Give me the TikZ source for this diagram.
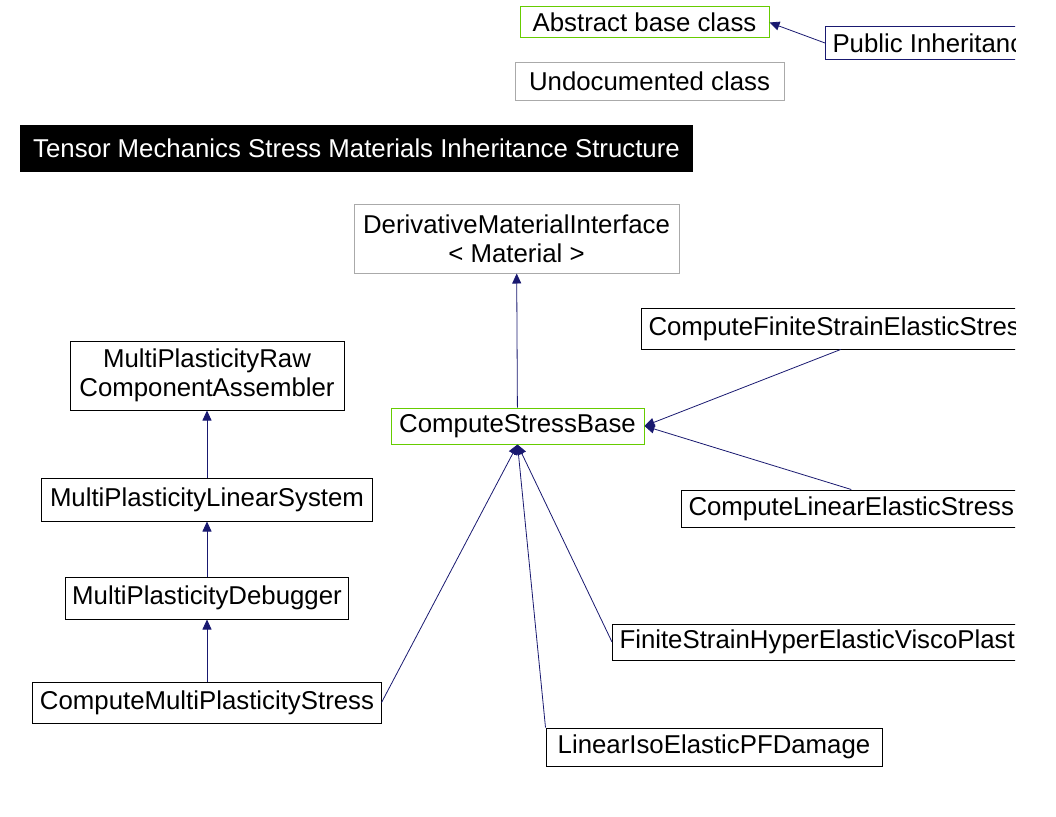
\documentclass[tikz,border=0pt]{standalone}
\usepackage{fontspec}
\setmainfont{Liberation Sans}
\usetikzlibrary{arrows.meta,positioning}

\definecolor{edgeblue}{RGB}{25,25,112}
\definecolor{docgreen}{RGB}{102,204,0}
\definecolor{undocgray}{RGB}{170,170,170}

\begin{document}
\begin{tikzpicture}[x=1pt,y=-1pt,node distance=60pt,
  cls/.style={draw=black,line width=1pt,inner xsep=7pt,inner ysep=2pt,
    minimum height=38pt,font=\fontsize{25.8}{29}\selectfont,align=center},
  base/.style={cls,draw=docgreen},
  undoc/.style={cls,draw=undocgray},
  title/.style={fill=black,text=white,minimum width=673pt,minimum height=47pt,
    font=\fontsize{25.8}{29}\selectfont},
  inherit/.style={color=edgeblue,line width=0.8pt,
    -{Triangle[length=10pt,width=9pt]}}]
\useasboundingbox (0,0) rectangle (1056,816);
\begin{scope}
\clip (0,0) rectangle (1015,816);
% legend
\node[base,minimum height=31pt,minimum width=249pt] (abc) at (644.5,22.5) {Abstract base class};
\node[cls,draw=edgeblue,minimum height=32pt,anchor=west] (pub) at (825,43) {Public Inheritance};
\node[undoc,minimum width=269pt] (undoc) at (649.5,81.5) {Undocumented class};
\node[title] (head) at (356.5,148.5) {Tensor Mechanics Stress Materials Inheritance Structure};
% tree
\node[undoc,minimum height=69pt,minimum width=325pt] (dmi) at (516.5,238.5) {DerivativeMaterialInterface\\ {< Material >}};
\node[base,minimum height=36pt,minimum width=253pt] (csb) at (517.5,426) {ComputeStressBase};
\node[cls,minimum height=41pt,anchor=west] (cfses) at (641,328.5) {ComputeFiniteStrainElasticStress};
\node[cls,minimum height=37pt,anchor=west] (cles) at (681,508.5) {ComputeLinearElasticStress};
\node[cls,minimum height=36pt,anchor=west] (fshevp) at (612,642) {FiniteStrainHyperElasticViscoPlastic};
\node[cls,minimum width=336pt] (liepfd) at (714,747) {LinearIsoElasticPFDamage};
\node[cls,minimum height=69pt,minimum width=274pt] (mprca) at (207,375.5) {MultiPlasticityRaw\\ComponentAssembler};
\node[cls,minimum height=43pt,minimum width=331pt] (mpls) [below=67pt of mprca] {MultiPlasticityLinearSystem};
\node[cls,minimum height=42pt] (mpd) [below=55pt of mpls] {MultiPlasticityDebugger};
\node[cls,minimum height=41pt] (cmps) [below=62pt of mpd] {ComputeMultiPlasticityStress};
\path[inherit] (pub.west) edge (abc.east);
\path[inherit] (csb) edge (dmi);
\path[inherit] (cfses.south) edge (csb.east);
\path[inherit] (cles.north) edge (csb.east);
\path[inherit] (fshevp.west) edge (csb.south);
\path[inherit] (liepfd.north west) edge (csb.south);
\path[inherit] (cmps.east) edge (csb.south);
\path[inherit] (mpls) edge (mprca);
\path[inherit] (mpd) edge (mpls);
\path[inherit] (cmps) edge (mpd);
\end{scope}
\end{tikzpicture}
\end{document}
